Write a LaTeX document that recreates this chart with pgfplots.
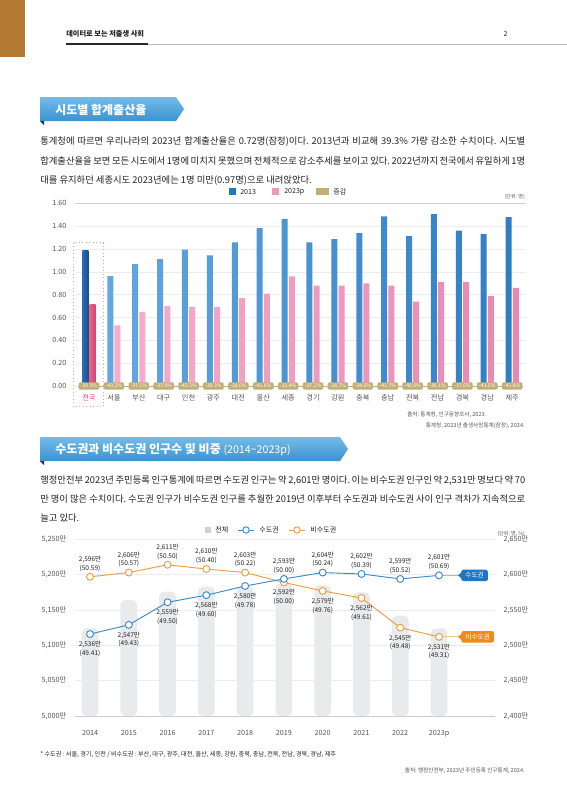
\documentclass[border=0pt]{standalone}
\usepackage{fontspec}
\setmainfont{Noto Sans CJK KR}
\usepackage{pgfplots}
\pgfplotsset{compat=1.18}
\frenchspacing
\definecolor{brownbar}{HTML}{B57A33}
\definecolor{txt}{HTML}{222222}
\definecolor{tick}{HTML}{555555}
\definecolor{bannerTop}{HTML}{74BBE8}
\definecolor{bannerBot}{HTML}{3A93D1}
\definecolor{bannerFold}{HTML}{1E3552}
\definecolor{bBlueL}{HTML}{63A8E0}
\definecolor{bBlueR}{HTML}{2F7DC3}
\definecolor{bPinkL}{HTML}{F6AECB}
\definecolor{bPinkR}{HTML}{EA86B0}
\definecolor{nBlueL}{HTML}{2A6DB5}
\definecolor{nBlueR}{HTML}{17508F}
\definecolor{nPinkL}{HTML}{E86288}
\definecolor{nPinkR}{HTML}{D3446E}
\definecolor{legBlue}{HTML}{1F78C6}
\definecolor{legPink}{HTML}{F097BC}
\definecolor{tan}{HTML}{C3AE78}
\definecolor{hlpink}{HTML}{E0407A}
\definecolor{lblue}{HTML}{3A8CC7}
\definecolor{lorange}{HTML}{EE9E3C}
\definecolor{barGray}{HTML}{E9EAEC}
\definecolor{tagBlue}{HTML}{1C76C4}
\definecolor{tagOrange}{HTML}{F08A1C}
\definecolor{gridc}{HTML}{ECECEC}
\newcommand\fs[2]{\fontsize{#1}{#2}\selectfont}
\newcommand\para{\fs{7pt}{8pt}\color{txt}}
\newcommand\dlab[5]{\node[font=\fs{4.9pt}{6.6pt}, text=txt, align=center, anchor=#4, inner sep=0pt, yshift=#5] at (axis cs:#1,#2) {#3};}
\begin{document}
\begin{tikzpicture}[x=0.75pt,y=-0.75pt]
\useasboundingbox (0,0) rectangle (567,800);
\fill[white] (0,0) rectangle (567,800);
% header
\fill[brownbar] (0,0) rectangle (25,57);
\node[anchor=base west, inner sep=0, font=\fs{5.4pt}{6pt}\bfseries, text=txt] at (66,36) {데이터로 보는 저출생 사회};
\node[anchor=base east, inner sep=0, font=\fs{5.4pt}{6pt}, text=txt] at (508,36) {2};
\draw[gray!55, line width=0.6pt] (66,44) -- (567,44);
\draw[black!85, line width=1.4pt] (66,44) -- (148,44);
% banner 1
\shade[top color=bannerTop, bottom color=bannerBot] (40,97) -- (176,97) -- (184,109) -- (176,121) -- (40,121) -- cycle;
\fill[bannerFold] (40,121) -- (44,121) -- (44,125) -- cycle;
\node[anchor=west, inner sep=0, text=white, font=\fs{9pt}{10pt}\bfseries] at (55,109.5) {시도별 합계출산율};
% paragraph 1
\node[anchor=base west, inner sep=0, font=\para] at (40,144.5) {\makebox[363.75pt][s]{통계청에 따르면 우리나라의 2023년 합계출산율은 0.72명(잠정)이다. 2013년과 비교해 39.3\% 가량 감소한 수치이다. 시도별}};
\node[anchor=base west, inner sep=0, font=\para] at (40,164) {\makebox[363.75pt][s]{합계출산율을 보면 모든 시도에서 1명에 미치지 못했으며 전체적으로 감소추세를 보이고 있다. 2022년까지 전국에서 유일하게 1명}};
\node[anchor=base west, inner sep=0, font=\para] at (40,183.5) {대를 유지하던 세종시도 2023년에는 1명 미만(0.97명)으로 내려앉았다.};
% legend 1
\fill[legBlue] (229,188) rectangle (236,195);
\node[anchor=west, inner sep=0, font=\fs{5.3pt}{6pt}, text=txt] at (240,191.5) {2013};
\fill[legPink] (272,188) rectangle (279,195);
\node[anchor=west, inner sep=0, font=\fs{5.3pt}{6pt}, text=txt] at (284,191.5) {2023p};
\fill[tan] (316,188) rectangle (329,195);
\node[anchor=west, inner sep=0, font=\fs{5.3pt}{6pt}, text=txt] at (333,191.5) {증감};
\node[anchor=east, inner sep=0, font=\fs{3.8pt}{4pt}, text=tick] at (525,197) {(단위: 명)};
% bar chart
\begin{axis}[
  at={(56.25pt,-289.5pt)}, anchor=south west,
  width=338pt, height=137pt, scale only axis,
  xmin=-0.562, xmax=17.54, ymin=0, ymax=1.6,
  clip=false,
  axis line style={draw=none}, tick style={draw=none},
  ytick={0,0.2,0.4,0.6,0.8,1.0,1.2,1.4,1.6},
  yticklabels={0.00,0.20,0.40,0.60,0.80,1.00,1.20,1.40,1.60},
  xtick={0,...,17},
  xticklabels={\textcolor{hlpink}{전국},서울,부산,대구,인천,광주,대전,울산,세종,경기,강원,충북,충남,전북,전남,경북,경남,제주},
  tick label style={font=\fs{5.4pt}{6pt}, text=tick},
  yticklabel style={xshift=-3pt},
  xticklabel style={yshift=-3pt},
  ymajorgrids, grid style={gridc, line width=0.5pt},
]
\draw[gray!35, line width=0.6pt] (axis cs:-0.562,1.6) -- (axis cs:17.54,1.6);
\addplot[ybar, bar width=4.5pt, bar shift=-2.7pt, draw=none, left color=bBlueL, right color=bBlueR] coordinates {
(1,0.963) (2,1.068) (3,1.112) (4,1.194) (5,1.144) (6,1.258) (7,1.383) (8,1.462) (9,1.258) (10,1.287) (11,1.340) (12,1.486) (13,1.313) (14,1.506) (15,1.360) (16,1.331) (17,1.480)};
\addplot[ybar, bar width=4.5pt, bar shift=2.7pt, draw=none, left color=bPinkL, right color=bPinkR] coordinates {
(1,0.53) (2,0.65) (3,0.70) (4,0.69) (5,0.69) (6,0.77) (7,0.81) (8,0.96) (9,0.88) (10,0.88) (11,0.90) (12,0.88) (13,0.74) (14,0.91) (15,0.91) (16,0.79) (17,0.86)};
\addplot[ybar, bar width=4.5pt, bar shift=-2.7pt, draw=none, left color=nBlueL, right color=nBlueR] coordinates {(0,1.185)};
\addplot[ybar, bar width=4.5pt, bar shift=2.7pt, draw=none, left color=nPinkL, right color=nPinkR] coordinates {(0,0.71)};
\addplot[tan, line width=0.7pt, mark=none] coordinates {(-0.45,0) (17.45,0)};
\addplot[draw=none, mark=none, point meta=explicit symbolic,
  nodes near coords={\pgfplotspointmeta\%},
  nodes near coords style={anchor=center, fill=tan, text=white, font=\fs{3.8pt}{4pt}, rounded corners=1pt, inner xsep=1.6pt, inner ysep=1.3pt, minimum width=15pt}]
 table[meta=lab] {
x y lab
0 0 -39.3
1 0 -43.2
2 0 -37.1
3 0 -37.9
4 0 -42.3
5 0 -39.3
6 0 -38.0
7 0 -41.6
8 0 -32.4
9 0 -37.2
10 0 -28.7
11 0 -34.6
12 0 -41.7
13 0 -40.9
14 0 -36.1
15 0 -37.6
16 0 -41.5
17 0 -41.8
};
\draw[hlpink!55, dotted, line width=0.6pt] (axis cs:-0.63,1.255) rectangle (axis cs:0.575,-0.18);
\end{axis}
% sources 1
\node[anchor=base west, inner sep=0, font=\fs{4.2pt}{5pt}, text=tick] at (407,416) {출처: 통계청, 인구동향조사, 2023.};
\node[anchor=base east, inner sep=0, font=\fs{4.2pt}{5pt}, text=tick] at (525,427) {통계청, 2023년 출생사망통계(잠정), 2024.};
% banner 2
\shade[top color=bannerTop, bottom color=bannerBot] (40,437) -- (340,437) -- (348,449) -- (340,461) -- (40,461) -- cycle;
\fill[bannerFold] (40,461) -- (44,461) -- (44,465) -- cycle;
\node[anchor=west, inner sep=0, text=white, font=\fs{9pt}{10pt}] at (55,449.5) {\textbf{수도권과 비수도권 인구수 및 비중} {\fs{8pt}{9pt}(2014\textasciitilde 2023p)}};
% paragraph 2
\node[anchor=base west, inner sep=0, font=\para] at (40,483) {\makebox[363.75pt][s]{행정안전부 2023년 주민등록 인구통계에 따르면 수도권 인구는 약 2,601만 명이다. 이는 비수도권 인구인 약 2,531만 명보다 약 70}};
\node[anchor=base west, inner sep=0, font=\para] at (40,502) {\makebox[363.75pt][s]{만 명이 많은 수치이다. 수도권 인구가 비수도권 인구를 추월한 2019년 이후부터 수도권과 비수도권 사이 인구 격차가 지속적으로}};
\node[anchor=base west, inner sep=0, font=\para] at (40,521) {늘고 있다.};
% legend 2
\fill[gray!35] (205,527) rectangle (211,533);
\node[anchor=west, inner sep=0, font=\fs{5.3pt}{6pt}, text=txt] at (215,530) {전체};
\draw[lblue, line width=0.7pt] (238,530) -- (254,530);
\draw[lblue, fill=white, line width=0.7pt] (246,530) circle (3.2);
\node[anchor=west, inner sep=0, font=\fs{5.3pt}{6pt}, text=txt] at (259,530) {수도권};
\draw[lorange, line width=0.7pt] (289,530) -- (305,530);
\draw[lorange, fill=white, line width=0.7pt] (297,530) circle (3.2);
\node[anchor=west, inner sep=0, font=\fs{5.3pt}{6pt}, text=txt] at (310,530) {비수도권};
\node[anchor=east, inner sep=0, font=\fs{3.8pt}{4pt}, text=tick] at (525,534) {(단위: 명, \%)};
% line chart: left axis with bars
\begin{axis}[
  at={(56.25pt,-537pt)}, anchor=south west,
  width=315pt, height=132.5pt, scale only axis,
  xmin=2013.613, xmax=2024.443, ymin=5000, ymax=5250,
  axis line style={draw=none}, tick style={draw=none},
  ytick={5000,5050,5100,5150,5200,5250},
  yticklabels={{5,000만},{5,050만},{5,100만},{5,150만},{5,200만},{5,250만}},
  xtick={2014,...,2023},
  xticklabels={2014,2015,2016,2017,2018,2019,2020,2021,2022,2023p},
  tick label style={font=\fs{5.4pt}{6pt}, text=tick},
  yticklabel style={xshift=-3pt},
  xticklabel style={yshift=-7.5pt},
  ymajorgrids, grid style={gridc, line width=0.5pt},
]
\addplot[ybar, bar width=12.5pt, fill=barGray, draw=none, rounded corners=3.5pt] coordinates {
(2014,5124) (2015,5164) (2016,5176) (2017,5183) (2018,5184) (2019,5188) (2020,5185) (2021,5175) (2022,5142) (2023,5124)};
\draw[gray!40, line width=0.6pt] (axis cs:2013.613,5000) -- (axis cs:2024.443,5000);
\end{axis}
% line chart: right axis with lines
\begin{axis}[
  at={(56.25pt,-537pt)}, anchor=south west,
  width=315pt, height=132.5pt, scale only axis,
  xmin=2013.613, xmax=2024.443, ymin=2400, ymax=2650,
  clip=false,
  axis line style={draw=none}, tick style={draw=none},
  xtick=\empty,
  ytick={2400,2450,2500,2550,2600,2650},
  yticklabels={{2,400만},{2,450만},{2,500만},{2,550만},{2,600만},{2,650만}},
  yticklabel pos=right,
  tick label style={font=\fs{5.4pt}{6pt}, text=tick},
  yticklabel style={xshift=3pt},
]
\draw[lblue!55, line width=0.6pt] (axis cs:2023,2599) -- (axis cs:2023.5,2599);
\draw[lorange!60, line width=0.6pt] (axis cs:2023,2512) -- (axis cs:2023.5,2512);
\addplot[lorange, line width=0.7pt, mark=*, mark size=2.6pt, mark options={fill=white, line width=0.7pt}] coordinates {
(2014,2597) (2015,2603) (2016,2614) (2017,2608) (2018,2603) (2019,2589) (2020,2577) (2021,2567) (2022,2525) (2023,2512)};
\addplot[lblue, line width=0.7pt, mark=*, mark size=2.6pt, mark options={fill=white, line width=0.7pt}] coordinates {
(2014,2516) (2015,2529) (2016,2561) (2017,2571) (2018,2584) (2019,2594) (2020,2603) (2021,2601) (2022,2594) (2023,2599)};
% data labels
\dlab{2014}{2597}{2,596만\\(50.59)}{south}{3.8pt}
\dlab{2015}{2603}{2,606만\\(50.57)}{south}{3.8pt}
\dlab{2016}{2614}{2,611만\\(50.50)}{south}{3.8pt}
\dlab{2017}{2608}{2,610만\\(50.40)}{south}{3.8pt}
\dlab{2018}{2603}{2,603만\\(50.22)}{south}{3.8pt}
\dlab{2019}{2594}{2,593만\\(50.00)}{south}{3.8pt}
\dlab{2020}{2603}{2,604만\\(50.24)}{south}{3.8pt}
\dlab{2021}{2601}{2,602만\\(50.39)}{south}{3.8pt}
\dlab{2022}{2594}{2,599만\\(50.52)}{south}{3.8pt}
\dlab{2023}{2599}{2,601만\\(50.69)}{south}{3.8pt}
\dlab{2014}{2516}{2,536만\\(49.41)}{north}{-5pt}
\dlab{2015}{2529}{2,547만\\(49.43)}{north}{-5pt}
\dlab{2016}{2561}{2,559만\\(49.50)}{north}{-5pt}
\dlab{2017}{2571}{2,568만\\(49.60)}{north}{-5pt}
\dlab{2018}{2584}{2,580만\\(49.78)}{north}{-5pt}
\dlab{2019}{2589}{2,592만\\(50.00)}{north}{-5pt}
\dlab{2020}{2577}{2,579만\\(49.76)}{north}{-5pt}
\dlab{2021}{2567}{2,562만\\(49.61)}{north}{-5pt}
\dlab{2022}{2525}{2,545만\\(49.48)}{north}{-5pt}
\dlab{2023}{2512}{2,531만\\(49.31)}{north}{-5pt}
% tags
\fill[tagBlue] ([yshift=2.5pt]axis cs:2023.59,2599) -- ([xshift=-3pt]axis cs:2023.59,2599) -- ([yshift=-2.5pt]axis cs:2023.59,2599) -- cycle;
\node[anchor=west, fill=tagBlue, text=white, font=\fs{5pt}{6pt}, rounded corners=1.2pt, inner xsep=3pt, minimum height=8.5pt, inner ysep=0pt] at (axis cs:2023.57,2599) {수도권};
\fill[tagOrange] ([yshift=2.5pt]axis cs:2023.59,2512) -- ([xshift=-3pt]axis cs:2023.59,2512) -- ([yshift=-2.5pt]axis cs:2023.59,2512) -- cycle;
\node[anchor=west, fill=tagOrange, text=white, font=\fs{5pt}{6pt}, rounded corners=1.2pt, inner xsep=3pt, minimum height=8.5pt, inner ysep=0pt] at (axis cs:2023.57,2512) {비수도권};
\end{axis}
% footnote and source
\node[anchor=base west, inner sep=0, font=\fs{4.6pt}{5pt}, text=txt] at (40,756) {* 수도권 : 서울, 경기, 인천 / 비수도권 : 부산, 대구, 광주, 대전, 울산, 세종, 강원, 충북, 충남, 전북, 전남, 경북, 경남, 제주};
\node[anchor=base east, inner sep=0, font=\fs{4.2pt}{5pt}, text=tick] at (525,772) {출처: 행정안전부, 2023년 주민등록 인구통계, 2024.};
\end{tikzpicture}
\end{document}
